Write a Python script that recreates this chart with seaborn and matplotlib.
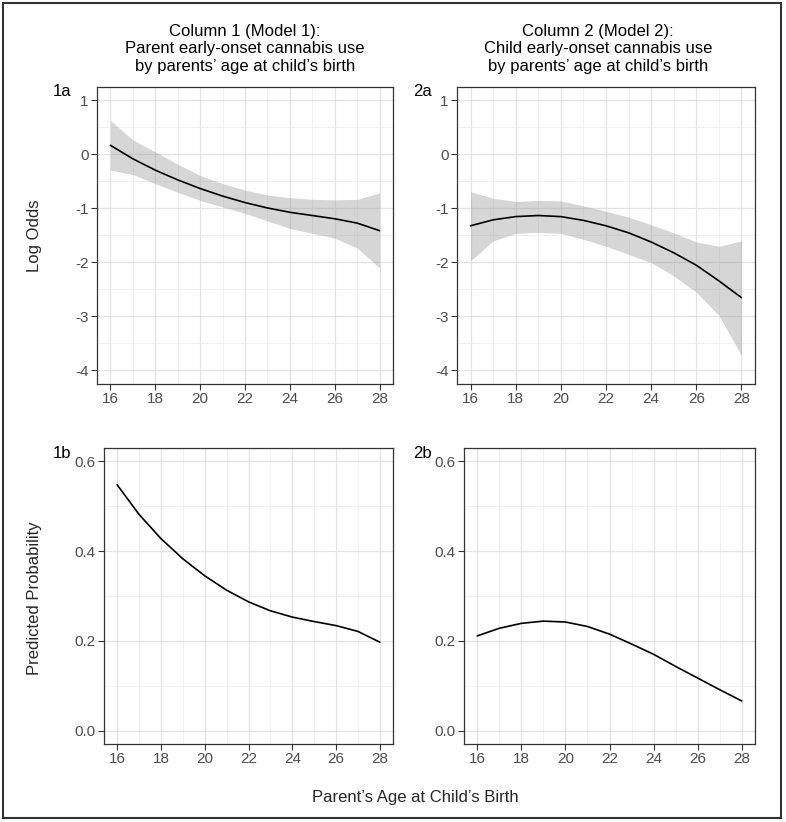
import numpy as np
import pandas as pd
import matplotlib.pyplot as plt
from matplotlib.patches import Rectangle
from matplotlib.ticker import MultipleLocator
import seaborn as sns

# Values
ages = [16, 17, 18, 19, 20, 21, 22, 23, 24, 25, 26, 27, 28]

# Model 1: parent early-onset cannabis use
m1_logodds = [0.17, -0.08, -0.29, -0.47, -0.63, -0.77, -0.89, -0.99, -1.07, -1.13, -1.19, -1.27, -1.41]
m1_lower = [-0.29, -0.37, -0.54, -0.70, -0.85, -0.97, -1.09, -1.23, -1.37, -1.46, -1.55, -1.73, -2.10]
m1_upper = [0.63, 0.27, 0.05, -0.18, -0.39, -0.54, -0.66, -0.75, -0.80, -0.83, -0.84, -0.83, -0.71]
m1_prob = [0.548, 0.482, 0.428, 0.383, 0.345, 0.313, 0.287, 0.267, 0.253, 0.243, 0.234, 0.221, 0.197]

# Model 2: child early-onset cannabis use
m2_logodds = [-1.32, -1.21, -1.15, -1.13, -1.15, -1.22, -1.32, -1.45, -1.62, -1.82, -2.05, -2.34, -2.65]
m2_lower = [-1.97, -1.60, -1.46, -1.44, -1.46, -1.57, -1.70, -1.85, -2.00, -2.25, -2.55, -2.98, -3.72]
m2_upper = [-0.69, -0.81, -0.87, -0.85, -0.86, -0.95, -1.05, -1.16, -1.30, -1.45, -1.62, -1.70, -1.60]
m2_prob = [0.211, 0.228, 0.239, 0.244, 0.242, 0.232, 0.215, 0.193, 0.170, 0.143, 0.117, 0.091, 0.066]

col_titles = [
    "Column 1 (Model 1):\nParent early-onset cannabis use\nby parents\u2019 age at child\u2019s birth",
    "Column 2 (Model 2):\nChild early-onset cannabis use\nby parents\u2019 age at child\u2019s birth",
]
panel_tags = ["1a", "2a", "1b", "2b"]

sns.set_theme(style="white")
plt.rcParams["font.family"] = ["Liberation Sans", "DejaVu Sans"]
plt.rcParams["axes.unicode_minus"] = False

W, H = 786, 822
fig = plt.figure(figsize=(W / 100, H / 100), dpi=100)


def px_axes(x0, y0, x1, y1):
    return fig.add_axes([x0 / W, 1 - y1 / H, (x1 - x0) / W, (y1 - y0) / H])


def style_axes(ax, ylim, major, minor, fmt):
    ax.set_xlim(15.4, 28.6)
    ax.set_ylim(*ylim)
    ax.xaxis.set_major_locator(MultipleLocator(2))
    ax.xaxis.set_minor_locator(MultipleLocator(1))
    ax.yaxis.set_major_locator(MultipleLocator(major))
    ax.yaxis.set_minor_locator(MultipleLocator(minor))
    ax.yaxis.set_major_formatter(fmt)
    ax.grid(which="major", color="#e3e3e3", lw=0.9)
    ax.grid(which="minor", color="#eeeeee", lw=0.6)
    ax.set_axisbelow(True)
    for s in ax.spines.values():
        s.set_color("#333333")
        s.set_linewidth(0.9)
    ax.tick_params(which="major", direction="out", length=4, width=0.8,
                   color="#333333", labelsize=11, labelcolor="#4d4d4d", pad=2,
                   bottom=True, left=True)
    ax.tick_params(which="minor", length=0)
    ax.set_xlabel("")
    ax.set_ylabel("")


ax1a = px_axes(97, 87, 393, 384)
ax2a = px_axes(457, 87, 755, 384)
ax1b = px_axes(104, 448, 393, 744)
ax2b = px_axes(464, 448, 755, 744)

top = [(ax1a, m1_logodds, m1_lower, m1_upper), (ax2a, m2_logodds, m2_lower, m2_upper)]
for ax, mid, lo, hi in top:
    df = pd.DataFrame({"age": ages, "val": mid})
    ax.fill_between(ages, lo, hi, color="#999999", alpha=0.4, lw=0)
    sns.lineplot(data=df, x="age", y="val", ax=ax, color="black", lw=1.2)
    style_axes(ax, (-4.25, 1.25), 1, 0.5, "{x:g}")

for ax, prob in [(ax1b, m1_prob), (ax2b, m2_prob)]:
    df = pd.DataFrame({"age": ages, "val": prob})
    sns.lineplot(data=df, x="age", y="val", ax=ax, color="black", lw=1.2)
    style_axes(ax, (-0.03, 0.63), 0.2, 0.1, "{x:.1f}")

# column titles
fig.text(245 / W, 1 - 49 / H, col_titles[0], ha="center", va="center",
         fontsize=12, linespacing=1.2, color="black")
fig.text(598 / W, 1 - 49 / H, col_titles[1], ha="center", va="center",
         fontsize=12, linespacing=1.2, color="black")

# panel tags
for tag, (x, y) in zip(panel_tags, [(62, 92), (422, 92), (62, 453), (422, 453)]):
    fig.text(x / W, 1 - y / H, tag, ha="center", va="center", fontsize=12, color="black")

# axis titles
fig.text(35 / W, 1 - 236 / H, "Log Odds", rotation=90, ha="center", va="center", fontsize=12)
fig.text(35 / W, 1 - 598 / H, "Predicted Probability", rotation=90, ha="center", va="center", fontsize=12)
fig.text(415 / W, 1 - 797 / H, "Parent\u2019s Age at Child\u2019s Birth", ha="center", va="center", fontsize=12)

# outer frame
fig.patches.append(Rectangle((3 / W, 4 / H), 778 / W, 815 / H, transform=fig.transFigure,
                             fill=False, edgecolor="#333333", lw=1.5))

fig.savefig("out.png", dpi=100)
